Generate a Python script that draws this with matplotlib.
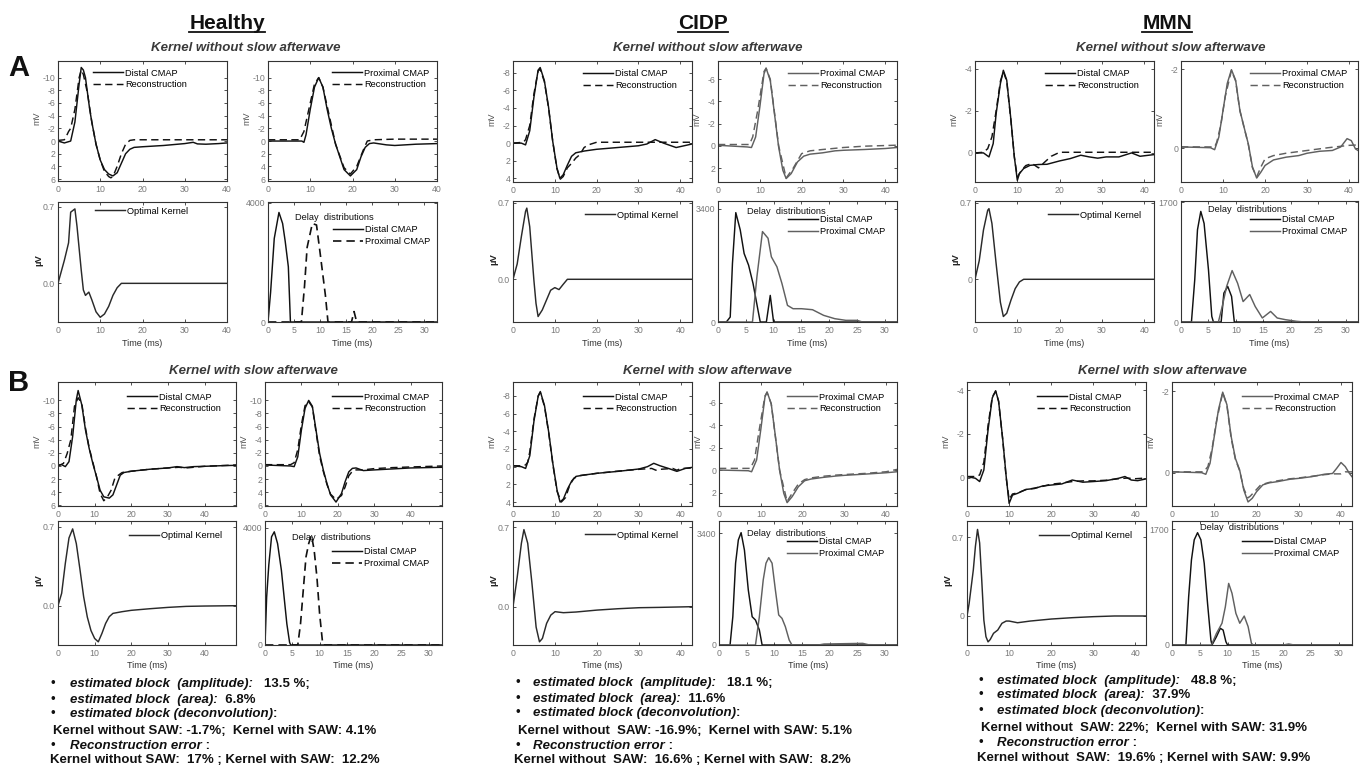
import matplotlib
matplotlib.use('Agg')
import matplotlib.pyplot as plt
from matplotlib.lines import Line2D

plt.rcParams['font.family'] = ['Liberation Sans', 'DejaVu Sans']

# ---------------- DATA ----------------
# Column / section headers
groups = ['Healthy', 'CIDP', 'MMN']
subtitle_a = 'Kernel without slow afterwave'
subtitle_b = 'Kernel with slow afterwave'

# ---- A : Healthy ----
ah_dist_t = [0, 1, 1.5, 2, 3, 4, 5, 5.5, 6, 6.5, 7, 7.5, 8, 9, 10, 11, 12, 13, 14, 15, 16, 17, 18, 20, 25, 30, 32, 33, 35, 38, 40]
ah_dist_v = [0, 0.2, 0.3, 0.2, 0, -3, -9, -11.6, -11.2, -10, -7.5, -5, -3, 0.5, 3, 4.5, 5.2, 5.5, 5, 3.5, 2, 1.3, 1.0, 0.9, 0.7, 0.4, 0.2, 0.45, 0.5, 0.4, 0.3]
ah_dist_rec_t = [0, 1.5, 2, 2.5, 3, 4, 5, 5.5, 6, 7, 8, 9, 10, 11, 12, 12.5, 13, 14, 15, 16, 17, 18, 20, 25, 30, 35, 40]
ah_dist_rec_v = [-0.1, -0.2, -0.8, -1.5, -2, -5, -10, -11.2, -10.5, -7.5, -3, 0.5, 3, 4.8, 5.6, 5.8, 5.6, 4, 2, 0.5, -0.1, -0.2, -0.2, -0.2, -0.2, -0.2, -0.2]
ah_prox_t = [0, 8, 8.5, 9, 10, 11, 12, 13, 14, 15, 16, 17, 18, 19.5, 21, 22, 23, 24, 25, 28, 30, 35, 40]
ah_prox_v = [0, 0, 0.2, -1, -5, -8.5, -10, -8.5, -5, -2, 0.5, 2.5, 4.5, 5.5, 4.5, 2.5, 1, 0.4, 0.3, 0.6, 0.7, 0.5, 0.4]
ah_prox_rec_t = [0, 7.5, 8.5, 10, 11, 12, 13, 14.5, 16, 18, 19.5, 21, 22.5, 23.5, 25, 30, 40]
ah_prox_rec_v = [-0.2, -0.2, -1.5, -6, -9, -10, -8.5, -4, 0.5, 4.2, 5.2, 4, 1.5, 0, -0.2, -0.3, -0.3]
ah_kern_t = [0, 1.5, 2.5, 3, 4, 4.5, 5.5, 6, 6.5, 7.3, 8, 9, 10, 11, 12, 13, 14, 15, 40]
ah_kern_v = [0, 0.21, 0.37, 0.65, 0.68, 0.52, 0.12, -0.06, -0.11, -0.08, -0.15, -0.26, -0.31, -0.28, -0.21, -0.11, -0.04, 0, 0]
ah_del_d_t = [0, 0.5, 1.2, 2.1, 2.8, 3.3, 3.9, 4.3, 32.4]
ah_del_d_v = [0, 1000, 2800, 3670, 3300, 2700, 1850, 0, 0]
ah_del_p_t = [0, 6.4, 7, 7.5, 8.5, 9.3, 10, 11, 11.5, 16, 16.5, 17, 32.4]
ah_del_p_v = [0, 0, 1200, 2500, 3300, 3250, 2300, 900, 0, 0, 350, 0, 0]

# ---- A : CIDP ----
ac_dist_t = [0, 2, 3, 4, 5, 6, 6.5, 7.5, 8.5, 9.5, 10.5, 11.2, 12, 13, 14, 15, 17, 20, 25, 30, 32, 34, 36, 39, 42.8]
ac_dist_v = [0, 0, 0.2, -1.4, -5.2, -8.3, -8.6, -7.1, -4.1, -0.2, 2.8, 4.0, 3.6, 2.5, 1.5, 1.1, 0.9, 0.7, 0.5, 0.3, 0.1, -0.4, 0, 0.5, 0.1]
ac_dist_rec_t = [0, 2.5, 3, 4, 5, 6, 6.5, 7.5, 8.5, 9.5, 10.5, 11.3, 12, 13, 14, 15, 16, 17, 18, 20, 42.8]
ac_dist_rec_v = [0, -0.1, -0.4, -2.0, -5.6, -8.2, -8.4, -7.0, -4.0, -0.2, 2.9, 4.1, 3.8, 2.8, 2.3, 1.7, 1.3, 0.5, 0.2, -0.1, -0.1]
ac_prox_t = [0, 7, 8, 9, 10, 11, 11.5, 12.5, 13.5, 14.5, 15.5, 16.3, 17.5, 19, 20.5, 22, 25, 28, 30, 35, 40, 42.8]
ac_prox_v = [-0.05, 0.1, 0.15, -0.8, -3.5, -6.5, -7.0, -5.9, -2.9, 0.1, 2.2, 2.95, 2.5, 1.45, 0.93, 0.75, 0.63, 0.45, 0.4, 0.33, 0.24, 0.15]
ac_prox_rec_t = [0, 7.5, 8.3, 9.5, 11, 11.5, 12.5, 14.5, 16.3, 18, 20, 22, 25, 30, 35, 42.8]
ac_prox_rec_v = [-0.12, -0.12, -0.8, -3.2, -6.7, -7.0, -6.0, 0, 2.9, 2.0, 0.7, 0.45, 0.33, 0.15, 0.03, -0.06]
ac_kern_t = [0, 1, 2, 3, 3.3, 4, 5, 5.5, 6, 7, 8, 9, 10, 11, 12, 13, 42.8]
ac_kern_v = [0, 0.14, 0.39, 0.62, 0.65, 0.48, -0.01, -0.22, -0.34, -0.28, -0.19, -0.1, -0.076, -0.094, -0.046, 0, 0]
ac_del_d_t = [0, 1.5, 2.2, 2.6, 3.2, 4, 4.7, 5.5, 6.3, 7.2, 7.6, 8.7, 9.4, 10, 32.2]
ac_del_d_v = [0, 0, 150, 1760, 3290, 2770, 2060, 1710, 1160, 350, 0, 0, 800, 0, 0]
ac_del_p_t = [0, 6.2, 7, 8, 9, 9.6, 10.6, 11.5, 12.5, 13.5, 15, 17, 19, 21, 23, 25, 26, 32.2]
ac_del_p_v = [0, 0, 1360, 2720, 2520, 1960, 1660, 1160, 500, 400, 400, 370, 200, 100, 50, 50, 0, 0]

# ---- A : MMN ----
am_dist_t = [0, 2, 3.3, 4.3, 5, 6, 6.7, 7.5, 8.5, 9.3, 10, 10.5, 11.5, 13, 15, 17, 20, 22.5, 25, 27, 29, 31, 34, 37, 39, 42.3]
am_dist_v = [0, 0, 0.19, -0.44, -1.87, -3.29, -3.92, -3.45, -1.55, 0.19, 1.3, 0.98, 0.74, 0.59, 0.55, 0.54, 0.38, 0.27, 0.11, 0.19, 0.25, 0.19, 0.19, 0, 0.16, 0.08]
am_dist_rec_t = [0, 2, 3, 4, 5, 6, 6.7, 7.5, 8.5, 9.3, 10, 11, 12, 13.5, 15, 16.5, 18, 20, 42.3]
am_dist_rec_v = [0, -0.03, -0.2, -0.76, -2.0, -3.4, -3.85, -3.4, -1.5, 0.2, 1.14, 0.82, 0.6, 0.5, 0.71, 0.43, 0.16, -0.03, -0.03]
am_prox_t = [0, 7, 8, 9, 10, 11, 12, 13, 14, 15, 16, 17, 18, 19, 20, 22, 25, 28, 30, 33, 36, 38, 39.5, 40.5, 41.5, 42.1]
am_prox_v = [-0.03, -0.01, 0.04, -0.28, -0.96, -1.64, -1.99, -1.72, -0.96, -0.53, -0.11, 0.48, 0.76, 0.61, 0.44, 0.30, 0.23, 0.19, 0.13, 0.08, 0.06, -0.03, -0.24, -0.19, 0.02, 0.06]
am_prox_rec_t = [0, 8, 8.5, 9.5, 10.5, 12, 13, 14, 16, 17, 18, 19, 20, 22, 25, 30, 35, 40, 42.1]
am_prox_rec_v = [-0.03, -0.03, -0.15, -0.6, -1.3, -1.97, -1.7, -0.95, -0.1, 0.5, 0.73, 0.48, 0.27, 0.19, 0.13, 0.06, -0.01, -0.07, -0.08]
am_kern_t = [0, 1, 2, 3, 3.3, 4, 5, 6, 6.7, 7.5, 8.5, 9.5, 10.5, 11.5, 42.3]
am_kern_v = [0, 0.17, 0.45, 0.63, 0.645, 0.51, 0.14, -0.21, -0.34, -0.31, -0.19, -0.085, -0.024, 0, 0]
am_del_d_t = [0, 1.9, 2.5, 3, 3.6, 4.2, 5, 5.6, 5.9, 7.3, 7.8, 8.5, 9.2, 9.7, 32.2]
am_del_d_v = [0, 0, 600, 1310, 1570, 1400, 740, 80, 0, 0, 410, 505, 363, 0, 0]
am_del_p_t = [0, 6.8, 7.5, 8.3, 9.3, 10.3, 11.3, 12.5, 13.5, 14.8, 16.3, 17.5, 19, 21, 22.5, 32.2]
am_del_p_v = [0, 0, 220, 505, 730, 550, 290, 390, 220, 57, 150, 57, 33, 10, 0, 0]

# ---- B : Healthy ----
bh_dist_t = [0, 1, 2, 3, 4, 5, 5.5, 6.5, 7.5, 8.5, 9.5, 10.5, 11.5, 12.5, 14, 15, 16, 17, 18, 20, 25, 30, 32.5, 34.5, 37, 40, 45, 48.6]
bh_dist_v = [-0.15, -0.2, 0.1, -0.66, -4.5, -10.1, -11.5, -9.3, -5.5, -2.7, -0.4, 1.6, 3.7, 4.7, 4.9, 4.4, 2.9, 1.4, 1.0, 0.8, 0.5, 0.3, 0.1, 0.25, 0.1, 0.05, -0.05, -0.1]
bh_dist_rec_t = [0, 1.5, 2.5, 3.5, 4.5, 5.5, 6.5, 7.5, 8.5, 9.5, 10.5, 11.5, 12.5, 13.5, 14.5, 15.5, 16.5, 17.5, 20, 25, 30, 33, 35, 40, 48.6]
bh_dist_rec_v = [0, -0.4, -1.9, -4, -9.1, -10.4, -9.5, -5.8, -2.8, -0.6, 1.6, 4.2, 5.3, 4.7, 3.7, 1.9, 1.4, 1.0, 0.8, 0.5, 0.3, 0.2, 0.3, 0.05, -0.15]
bh_prox_t = [0, 7, 8, 9, 10, 11, 12, 13, 14, 15, 16, 17, 18, 19.5, 21, 22, 23, 24, 25, 27, 30, 35, 40, 48.6]
bh_prox_v = [-0.15, 0, 0.1, -1.4, -5.5, -8.8, -10, -9.1, -5.5, -1.9, 0.6, 2.65, 4.4, 5.5, 4.2, 2.4, 0.9, 0.36, 0.3, 0.7, 0.6, 0.45, 0.3, 0.2]
bh_prox_rec_t = [0, 7, 8, 9, 10, 11, 12, 13, 14, 15, 16, 17, 18, 19.5, 21, 22, 23, 24, 25, 27, 30, 35, 40, 48.6]
bh_prox_rec_v = [-0.2, -0.2, -0.5, -2.5, -6.3, -9.2, -9.8, -9.0, -5.2, -1.5, 0.8, 2.8, 4.3, 5.1, 4.5, 3.2, 1.5, 0.8, 0.6, 0.6, 0.4, 0.25, 0.15, 0]
bh_kern_t = [0, 1, 2, 3, 4, 5, 6, 7, 8, 9, 10, 11, 12, 13, 14, 15, 17.5, 20, 25, 30, 35, 40, 48.6]
bh_kern_v = [0, 0.11, 0.375, 0.6, 0.68, 0.55, 0.32, 0.08, -0.1, -0.22, -0.29, -0.32, -0.245, -0.157, -0.097, -0.068, -0.053, -0.041, -0.027, -0.015, -0.006, -0.003, 0]
bh_del_d_t = [0, 0.3, 0.7, 1.2, 1.7, 2.3, 3, 3.5, 4, 4.5, 4.7, 32.4]
bh_del_d_v = [0, 1630, 2740, 3690, 3860, 3460, 2550, 1630, 720, 90, 0, 0]
bh_del_p_t = [0, 6, 6.5, 7, 7.5, 8, 8.5, 9, 9.5, 10, 10.5, 10.7, 32.4]
bh_del_p_v = [0, 0, 720, 1860, 3000, 3460, 3750, 3230, 2320, 1060, 150, 0, 0]

# ---- B : CIDP ----
bc_dist_t = [0, 2, 3, 4, 5, 6, 6.5, 7.5, 8.5, 9.5, 10.5, 11.2, 12, 13, 14, 15, 17, 20, 25, 30, 32, 33.5, 35, 37, 39, 41, 42.6]
bc_dist_v = [-0.1, 0, 0.2, -1.24, -5.2, -8.0, -8.5, -6.9, -3.9, -0.3, 2.7, 4.0, 3.65, 2.5, 1.6, 1.1, 0.94, 0.75, 0.53, 0.26, 0, -0.38, -0.1, 0.2, 0.53, 0.2, 0.08]
bc_dist_rec_t = [0, 2, 3, 3.5, 4, 5, 6, 6.5, 7.5, 8.5, 9.5, 10.5, 11.5, 12.5, 13.5, 14.5, 16, 20, 25, 30, 33, 34, 35, 38, 39, 40, 42.6]
bc_dist_rec_v = [-0.1, -0.1, -0.2, -0.5, -1.7, -5.4, -8.0, -8.4, -6.8, -3.8, -0.2, 2.8, 4.0, 3.5, 2.1, 1.3, 1.0, 0.75, 0.5, 0.3, 0.2, 0.4, 0.3, 0.2, 0.4, 0.2, 0.15]
bc_prox_t = [0, 7, 7.8, 9, 10, 11, 11.5, 12.5, 13.5, 14.5, 15.5, 16.3, 17.5, 19, 20.5, 22, 25, 28, 30, 35, 40, 42.6]
bc_prox_v = [0, 0.06, 0.15, -0.9, -3.6, -6.5, -6.96, -5.9, -3.0, 0, 2.07, 2.9, 2.37, 1.48, 0.95, 0.8, 0.65, 0.53, 0.47, 0.36, 0.24, 0.15]
bc_prox_rec_t = [0, 7.5, 8.5, 9.5, 11, 11.5, 12.5, 14.5, 16.3, 17.5, 19, 20.5, 22, 25, 28, 30, 35, 40, 42.6]
bc_prox_rec_v = [-0.15, -0.15, -0.9, -3.3, -6.6, -6.9, -5.9, 0, 2.8, 2.07, 1.24, 0.85, 0.7, 0.55, 0.45, 0.4, 0.3, 0.15, -0.06]
bc_kern_t = [0, 1, 2, 2.6, 3.5, 4.5, 5.5, 6.3, 7, 8, 9, 10, 12, 15, 20, 25, 30, 35, 42.6]
bc_kern_v = [0, 0.26, 0.56, 0.68, 0.56, 0.21, -0.18, -0.31, -0.28, -0.147, -0.074, -0.044, -0.053, -0.047, -0.03, -0.018, -0.009, -0.006, 0]
bc_del_d_t = [0, 2, 2.5, 3, 3.5, 4, 4.6, 5.3, 6, 6.6, 7.3, 7.8, 32.2]
bc_del_d_v = [0, 0, 860, 2490, 3200, 3420, 2890, 1675, 860, 760, 457, 0, 0]
bc_del_p_t = [0, 6.6, 7.3, 8, 8.5, 9, 9.6, 10.2, 10.8, 11.4, 12, 12.7, 13.2, 18, 19, 26, 27, 32.2]
bc_del_p_v = [0, 0, 860, 1980, 2490, 2660, 2490, 1675, 915, 810, 560, 150, 0, 0, 30, 50, 10, 0]

# ---- B : MMN ----
bm_dist_t = [0, 2, 3, 4, 5, 6, 6.8, 7.5, 8.5, 9.3, 10, 10.8, 12, 14, 16, 18, 20, 22.5, 25, 27.5, 30, 33, 36, 37.5, 39, 40.5, 42.5]
bm_dist_v = [-0.05, 0.03, 0.18, -0.35, -2.19, -3.65, -3.98, -3.5, -1.73, -0.05, 1.18, 0.8, 0.72, 0.54, 0.5, 0.38, 0.34, 0.29, 0.11, 0.21, 0.18, 0.14, 0.03, -0.05, 0.11, 0.14, 0.06]
bm_dist_rec_t = [0, 2, 3, 4, 5, 6, 6.8, 7.5, 8.5, 9.3, 10, 10.8, 12, 14, 16, 18, 20, 22.5, 25, 27.5, 30, 33, 36, 38, 40, 42.5]
bm_dist_rec_v = [-0.05, -0.05, -0.12, -0.7, -2.4, -3.7, -3.95, -3.5, -1.7, 0, 1.0, 0.75, 0.7, 0.55, 0.48, 0.4, 0.3, 0.25, 0.18, 0.15, 0.15, 0.12, 0.05, 0.02, 0.05, 0.02]
bm_prox_t = [0, 7, 8, 9, 10, 11, 12, 13, 14, 15, 16, 17, 18, 19, 20, 21.5, 23, 25, 28, 30, 33, 36, 38, 39, 40, 41, 42, 42.6]
bm_prox_v = [-0.02, 0, 0.04, -0.23, -0.89, -1.55, -1.98, -1.67, -0.89, -0.35, -0.07, 0.43, 0.72, 0.63, 0.47, 0.3, 0.25, 0.22, 0.16, 0.14, 0.1, 0.04, 0.02, -0.11, -0.25, -0.15, 0.02, 0.1]
bm_prox_rec_t = [0, 7.5, 8.5, 9.5, 10.5, 12, 13, 14, 15, 16, 17, 18, 18.5, 19.5, 21, 23, 25, 28, 30, 33, 36, 38, 40, 41, 42.6]
bm_prox_rec_v = [-0.02, -0.02, -0.15, -0.6, -1.25, -1.97, -1.65, -0.85, -0.33, -0.05, 0.4, 0.62, 0.58, 0.47, 0.3, 0.24, 0.2, 0.15, 0.13, 0.09, 0.05, 0.03, 0.03, -0.02, -0.02]
bm_kern_t = [0, 0.5, 1, 1.5, 2, 2.5, 3, 3.5, 4, 4.5, 5, 5.5, 6.3, 7.3, 8.3, 9.3, 10, 12, 15, 20, 25, 30, 35, 42.5]
bm_kern_v = [0, 0.11, 0.26, 0.41, 0.62, 0.77, 0.65, 0.32, -0.036, -0.184, -0.23, -0.21, -0.154, -0.125, -0.065, -0.045, -0.045, -0.06, -0.045, -0.027, -0.015, -0.006, 0, 0]
bm_del_d_t = [0, 2.5, 3, 3.5, 4, 4.6, 5.2, 5.8, 6.4, 7, 7.2, 8, 8.7, 9.2, 9.7, 10, 32.4]
bm_del_d_v = [0, 0, 710, 1250, 1545, 1650, 1545, 1200, 610, 73, 0, 122, 245, 220, 49, 0, 0]
bm_del_p_t = [0, 7.1, 8, 9, 9.6, 10.2, 10.8, 11.5, 12.2, 13, 13.7, 14.3, 14.6, 20, 21, 22, 32.4]
bm_del_p_v = [0, 0, 170, 320, 560, 905, 760, 465, 320, 425, 270, 25, 0, 0, 15, 0, 0]

# Tick labels
cmap_xticks = [0, 10, 20, 30, 40]
delay_xticks = [0, 5, 10, 15, 20, 25, 30]
h_cmap_yticks = [-10, -8, -6, -4, -2, 0, 2, 4, 6]
c_dist_yticks = [-8, -6, -4, -2, 0, 2, 4]
c_prox_yticks = [-6, -4, -2, 0, 2]
m_dist_yticks = [-4, -2, 0]
m_prox_yticks = [-2, 0]
kern_yticks = [0, 0.7]
kern_ytl_hc = ['0.0', '0.7']
kern_ytl_m = ['0', '0.7']
delay_ymax_ticks = [4000, 3400, 1700]

# Legend labels
lab_dist = ['Distal CMAP', 'Reconstruction']
lab_prox = ['Proximal CMAP', 'Reconstruction']
lab_kern = ['Optimal Kernel']
lab_delay = ['Distal CMAP', 'Proximal CMAP']
delay_title = 'Delay  distributions'

# Result texts
res_healthy = ['13.5 %;', '6.8%', 'Kernel without SAW: -1.7%;  Kernel with SAW: 4.1%',
               'Kernel without SAW:  17% ; Kernel with SAW:  12.2%']
res_cidp = ['18.1 %;', '11.6%', 'Kernel without  SAW: -16.9%;  Kernel with SAW: 5.1%',
            'Kernel without  SAW:  16.6% ; Kernel with SAW:  8.2%']
res_mmn = ['48.8 %;', '37.9%', 'Kernel without  SAW: 22%;  Kernel with SAW: 31.9%',
           'Kernel without  SAW:  19.6% ; Kernel with SAW: 9.9%']

# ---------------- FIGURE ----------------
W, H = 1365, 769
fig = plt.figure(figsize=(W / 100, H / 100), dpi=100)
fig.patch.set_facecolor('white')

K = '#111111'
G = '#606060'
KERN = '#2a2a2a'
LW = 1.05
DASH = (5, 3)


def px_ax(x0, y0, x1, y1):
    return fig.add_axes([x0 / W, 1 - y1 / H, (x1 - x0) / W, (y1 - y0) / H])


def style(ax, xlim, ylim, xticks, yticks, ytl):
    ax.set_xlim(*xlim)
    ax.set_ylim(*ylim)
    ax.set_xticks(xticks)
    ax.set_xticklabels([str(v) for v in xticks])
    ax.set_yticks(yticks)
    ax.set_yticklabels(ytl)
    ax.tick_params(direction='in', length=2.5, width=0.6, top=True, right=True,
                   labelsize=6.3, labelcolor='#7a7a7a', color='#333333')
    ax.tick_params(axis='x', pad=3)
    ax.tick_params(axis='y', pad=2)
    for s in ax.spines.values():
        s.set_linewidth(0.8)
        s.set_color('#333333')


def legend(ax, handles, labels, x_px, y_px):
    ax.legend(handles, labels, loc='upper left',
              bbox_to_anchor=(x_px / W, 1 - (y_px - 5.5) / H),
              bbox_transform=fig.transFigure, frameon=False, fontsize=6.7,
              handlelength=3.2, handletextpad=0.25, labelspacing=0.3,
              borderpad=0, borderaxespad=0)


def ylab(ax, text, off_px, bold=False):
    bb = ax.get_position()
    wpx = bb.width * W
    ax.set_ylabel(text, fontsize=6.8 if bold else 6.5,
                  color='#222222' if bold else '#555555',
                  fontweight='bold' if bold else 'normal')
    ax.yaxis.set_label_coords(-off_px / wpx, 0.52)


def xlab(ax):
    bb = ax.get_position()
    hpx = bb.height * H
    ax.set_xlabel('Time (ms)', fontsize=6.5, color='#333333')
    ax.xaxis.set_label_coords(0.5, -16.5 / hpx)


def cmap_panel(box, t1, v1, t2, v2, col, xlim, ylim, yt, labels, leg_xy):
    ax = px_ax(*box)
    h1, = ax.plot(t1, v1, color=col, lw=LW)
    h2, = ax.plot(t2, v2, color=col, lw=LW, ls='--', dashes=DASH)
    style(ax, xlim, ylim, cmap_xticks, yt, [str(v) for v in yt])
    legend(ax, [h1, h2], labels, *leg_xy)
    ylab(ax, 'mV', 17)
    return ax


def kern_panel(box, t, v, xlim, ylim, ytl, leg_xy):
    ax = px_ax(*box)
    h, = ax.plot(t, v, color=KERN, lw=LW)
    style(ax, xlim, ylim, cmap_xticks, kern_yticks, ytl)
    legend(ax, [h], lab_kern, *leg_xy)
    ylab(ax, 'µV', 15, bold=True)
    xlab(ax)
    return ax


def delay_panel(box, td, vd, tp, vp, prox_style, ylim, ymaxtick, title_xy, leg_xy):
    ax = px_ax(*box)
    h1, = ax.plot(td, vd, color=K, lw=LW)
    if prox_style == 'dash':
        h2, = ax.plot(tp, vp, color=K, lw=LW * 1.15, ls='--', dashes=DASH)
    else:
        h2, = ax.plot(tp, vp, color=G, lw=LW)
    style(ax, (0, ylim[0]), (0, ylim[1]), delay_xticks, [0, ymaxtick], ['0', str(ymaxtick)])
    legend(ax, [h1, h2], lab_delay, *leg_xy)
    fig.text(title_xy[0] / W, 1 - title_xy[1] / H, delay_title, fontsize=6.7,
             color=K, ha='left', va='center')
    xlab(ax)
    return ax


# ---------------- SECTION A ----------------
cmap_panel((58, 60.5, 227, 181), ah_dist_t, ah_dist_v, ah_dist_rec_t, ah_dist_rec_v, K,
           (0, 40), (6.3, -12.7), h_cmap_yticks, lab_dist, (93, 74))
cmap_panel((268, 60.5, 437, 181), ah_prox_t, ah_prox_v, ah_prox_rec_t, ah_prox_rec_v, K,
           (0, 40), (6.3, -12.7), h_cmap_yticks, lab_prox, (332, 74))
kern_panel((58, 202, 227, 322), ah_kern_t, ah_kern_v, (0, 40), (-0.353, 0.743), kern_ytl_hc, (95, 212))
delay_panel((268, 202, 437, 322), ah_del_d_t, ah_del_d_v, ah_del_p_t, ah_del_p_v, 'dash',
            (32.4, 4020), delay_ymax_ticks[0], (295, 218), (333, 231))

cmap_panel((513, 61, 692, 182), ac_dist_t, ac_dist_v, ac_dist_rec_t, ac_dist_rec_v, K,
           (0, 42.8), (4.42, -9.34), c_dist_yticks, lab_dist, (583, 75))
cmap_panel((718, 61, 897, 182), ac_prox_t, ac_prox_v, ac_prox_rec_t, ac_prox_rec_v, G,
           (0, 42.8), (3.26, -7.65), c_prox_yticks, lab_prox, (788, 75))
kern_panel((513, 201, 692, 322), ac_kern_t, ac_kern_v, (0, 42.8), (-0.39, 0.715), kern_ytl_hc, (585, 216))
delay_panel((718, 201, 897, 322), ac_del_d_t, ac_del_d_v, ac_del_p_t, ac_del_p_v, 'gray',
            (32.2, 3640), delay_ymax_ticks[1], (747, 212), (788, 221))

cmap_panel((975, 61, 1154, 182), am_dist_t, am_dist_v, am_dist_rec_t, am_dist_rec_v, K,
           (0, 42.3), (1.38, -4.36), m_dist_yticks, lab_dist, (1045, 75))
cmap_panel((1181, 61, 1358, 182), am_prox_t, am_prox_v, am_prox_rec_t, am_prox_rec_v, G,
           (0, 42.1), (0.86, -2.21), m_prox_yticks, lab_prox, (1250, 75))
kern_panel((975, 201, 1154, 322), am_kern_t, am_kern_v, (0, 42.3), (-0.39, 0.715), kern_ytl_m, (1048, 216))
delay_panel((1181, 201, 1358, 322), am_del_d_t, am_del_d_v, am_del_p_t, am_del_p_v, 'gray',
            (32.2, 1718), delay_ymax_ticks[2], (1208, 210), (1250, 221))

# ---------------- SECTION B ----------------
cmap_panel((58, 382, 236, 506), bh_dist_t, bh_dist_v, bh_dist_rec_t, bh_dist_rec_v, K,
           (0, 48.6), (6.1, -12.8), h_cmap_yticks, lab_dist, (127, 398))
cmap_panel((265, 382, 442, 506), bh_prox_t, bh_prox_v, bh_prox_rec_t, bh_prox_rec_v, K,
           (0, 48.6), (6.1, -12.8), h_cmap_yticks, lab_prox, (332, 398))
kern_panel((58, 521, 236, 645), bh_kern_t, bh_kern_v, (0, 48.6), (-0.348, 0.75), kern_ytl_hc, (129, 537))
delay_panel((265, 521, 442, 645), bh_del_d_t, bh_del_d_v, bh_del_p_t, bh_del_p_v, 'dash',
            (32.4, 4229), delay_ymax_ticks[0], (292, 537), (332, 553))

cmap_panel((513, 382, 692, 506), bc_dist_t, bc_dist_v, bc_dist_rec_t, bc_dist_rec_v, K,
           (0, 42.6), (4.45, -9.58), c_dist_yticks, lab_dist, (583, 398))
cmap_panel((719, 382, 897, 506), bc_prox_t, bc_prox_v, bc_prox_rec_t, bc_prox_rec_v, G,
           (0, 42.6), (3.2, -7.84), c_prox_yticks, lab_prox, (787, 398))
kern_panel((513, 521, 692, 645), bc_kern_t, bc_kern_v, (0, 42.6), (-0.338, 0.756), kern_ytl_hc, (585, 536))
delay_panel((719, 521, 897, 645), bc_del_d_t, bc_del_d_v, bc_del_p_t, bc_del_p_v, 'gray',
            (32.2, 3775), delay_ymax_ticks[1], (747, 534), (787, 543))

cmap_panel((967, 382, 1146, 506), bm_dist_t, bm_dist_v, bm_dist_rec_t, bm_dist_rec_v, K,
           (0, 42.5), (1.3, -4.38), m_dist_yticks, lab_dist, (1037, 398))
cmap_panel((1172, 382, 1352, 506), bm_prox_t, bm_prox_v, bm_prox_rec_t, bm_prox_rec_v, G,
           (0, 42.6), (0.82, -2.23), m_prox_yticks, lab_prox, (1242, 398))
kern_panel((967, 521, 1146, 645), bm_kern_t, bm_kern_v, (0, 42.5), (-0.258, 0.845), kern_ytl_m, (1039, 537))
delay_panel((1172, 521, 1352, 645), bm_del_d_t, bm_del_d_v, bm_del_p_t, bm_del_p_v, 'gray',
            (32.4, 1822), delay_ymax_ticks[2], (1200, 527), (1242, 543))

# ---------------- HEADERS ----------------
renderer = fig.canvas.get_renderer()
for name, cx in zip(groups, [227, 703, 1167]):
    t = fig.text(cx / W, 1 - 29.3 / H, name, fontsize=15, fontweight='bold',
                 ha='center', va='baseline', color='#111111')
    bb = t.get_window_extent(renderer)
    fig.add_artist(Line2D([bb.x0 / W, bb.x1 / W], [1 - 32.3 / H] * 2,
                          color='#111111', lw=1.3))

for cx in [246, 708, 1171]:
    fig.text(cx / W, 1 - 48 / H, subtitle_a, fontsize=9.5, fontweight='bold',
             fontstyle='italic', ha='center', va='center', color='#3a3a3a')
for cx in [253, 707, 1162]:
    fig.text(cx / W, 1 - 371 / H, subtitle_b, fontsize=9.5, fontweight='bold',
             fontstyle='italic', ha='center', va='center', color='#3a3a3a')

fig.text(19 / W, 1 - 67.5 / H, 'A', fontsize=21, fontweight='bold', ha='center', va='center', color='#111111')
fig.text(19 / W, 1 - 383 / H, 'B', fontsize=21, fontweight='bold', ha='center', va='center', color='#111111')


# ---------------- RESULT TEXT ----------------
def rich(x, y, parts):
    cx = x
    for s, st in parts:
        t = fig.text(cx / W, 1 - y / H, s, fontsize=9.5, fontweight='bold',
                     fontstyle='italic' if st == 'i' else 'normal',
                     ha='left', va='center', color='#111111')
        bb = t.get_window_extent(renderer)
        cx = bb.x1


def result_block(res, bx, tx, l4x, l6x, ys):
    fs = 9.5
    for yy in (ys[0], ys[1], ys[2], ys[4]):
        fig.text(bx / W, 1 - yy / H, '•', fontsize=fs, ha='center', va='center', color='#111111')
    rich(tx, ys[0], [('estimated block  (amplitude):', 'i'), ('   ' + res[0], 'n')])
    rich(tx, ys[1], [('estimated block  (area):', 'i'), ('  ' + res[1], 'n')])
    rich(tx, ys[2], [('estimated block (deconvolution)', 'i'), (':', 'n')])
    rich(l4x, ys[3], [(res[2], 'n')])
    rich(tx, ys[4], [('Reconstruction error', 'i'), (' :', 'n')])
    rich(l6x, ys[5], [(res[3], 'n')])


result_block(res_healthy, 53, 70, 53, 50, [684, 700, 714, 731, 746, 760])
result_block(res_cidp, 518, 533, 518, 514, [683, 699, 713, 731, 746, 760])
result_block(res_mmn, 981, 997, 981, 977, [681, 695, 711, 728, 743, 758])

fig.savefig('out.png', dpi=100, facecolor='white')
